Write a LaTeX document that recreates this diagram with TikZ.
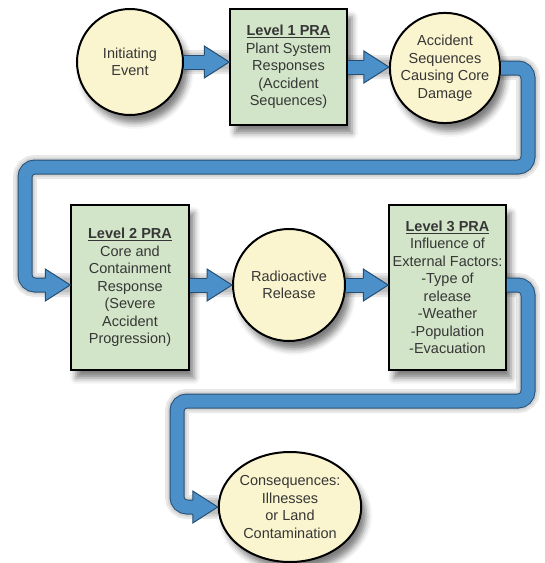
\documentclass[tikz,border=0pt]{standalone}
\usepackage{fontspec}
\setmainfont{Liberation Sans}
\usetikzlibrary{calc,shapes.geometric,shadows,shadows.blur,backgrounds}
\definecolor{eventfill}{HTML}{FAF5CE}
\definecolor{levelfill}{HTML}{D2E5C8}
\definecolor{pipeblue}{HTML}{4C90CA}
\definecolor{pipeedge}{HTML}{264E73}
\definecolor{textgray}{HTML}{363636}
\tikzset{
	softshadow/.style={blur shadow={shadow xshift=5pt, shadow yshift=-8pt, shadow blur radius=6pt, shadow opacity=50}},
	event/.style={circle, draw=black, line width=2pt, fill=eventfill, align=center, inner sep=0pt, text=textgray, softshadow},
	level/.style={rectangle, draw=black, line width=1.5pt, fill=levelfill, align=center, inner sep=0pt, text=textgray, softshadow},
	pipe/.style={draw=pipeedge, double=pipeblue, double distance=13pt, line width=1pt, rounded corners=10pt},
	pipehead/.style={fill=pipeblue, draw=pipeedge, line width=1pt, line join=miter},
	pipeshadow/.style={draw=black, opacity=0.09, rounded corners=10pt}
}
\begin{document}
\begin{tikzpicture}[x=1pt, y=-1pt, font=\fontsize{14.5}{17.5}\selectfont]
	\useasboundingbox (0,0) rectangle (545,563);
	% Define the boxes and circles
	\node[event, minimum size=106pt] (initiating) at (130,62) {Initiating\\Event};
	\node[level, minimum width=117pt, minimum height=116pt] (level1) at (288.5,67) {\underline{\textbf{Level 1 PRA}}\\Plant System\\Responses\\(Accident\\Sequences)};
	\node[event, minimum size=108pt] (sequences) at (445,68) {Accident\\Sequences\\Causing Core\\Damage};
	\node[level, minimum width=118pt, minimum height=165pt] (level2) at (130,287.5) {\underline{\textbf{Level 2 PRA}}\\Core and\\Containment\\Response\\(Severe\\Accident\\Progression)};
	\node[event, minimum size=112pt] (release) at (289,285) {Radioactive\\Release};
	\node[level, minimum width=117pt, minimum height=165pt] (level3) at (447.5,287.5) {\underline{\textbf{Level 3 PRA}}\\Influence of\\External Factors:\\-Type of\\release\\-Weather\\-Population\\-Evacuation};
	\node[event, ellipse, minimum width=126pt, minimum height=110pt] (consequences) at (290,507) {Consequences:\\Illnesses\\or Land\\Contamination};
	% Define the arrow tips and bends
	\coordinate (tip1) at (initiating.east -| level1.west);
	\coordinate (tip2) at (level1.east -| sequences.west);
	\coordinate (tip3) at (level2.west |- release.west);
	\coordinate (tip4) at (release.west);
	\coordinate (tip5) at (release.east -| level3.west);
	\coordinate (tip6) at (consequences.west);
	\coordinate (bendA) at (528,167);
	\coordinate (bendB) at (25,167);
	\coordinate (bendC) at (528,401);
	\coordinate (bendD) at (177,401);
	% Shadows of the pipes
	\begin{scope}[on background layer, transform canvas={xshift=4pt, yshift=-6pt}]
		\foreach \w in {24,19,14}
			\draw[pipeshadow, line width=\w pt] (initiating.east) -- (tip1) (level1.east) -- (tip2) (sequences.east) -| (bendA) -- (bendB) |- (tip3) (level2.east |- tip4) -- (tip4) (release.east) -- (tip5) (level3.east |- tip5) -| (bendC) -- (bendD) |- (tip6);
	\end{scope}
	% Draw the pipes
	\draw[pipe] (initiating.east) -- ($(tip1)+(-23,0)$);
	\draw[pipe] (level1.east) -- ($(tip2)+(-23,0)$);
	\draw[pipe] (sequences.east) -| (bendA) -- (bendB) |- ($(tip3)+(-23,0)$);
	\draw[pipe] (level2.east |- tip4) -- ($(tip4)+(-23,0)$);
	\draw[pipe] (release.east) -- ($(tip5)+(-23,0)$);
	\draw[pipe] (level3.east |- tip5) -| (bendC) -- (bendD) |- ($(tip6)+(-23,0)$);
	% Add arrow heads
	\foreach \t in {tip1,tip2,tip3,tip4,tip5,tip6}
		\filldraw[pipehead] ($(\t)+(-25,-7)$) -- ($(\t)+(-25,-16)$) -- (\t) -- ($(\t)+(-25,16)$) -- ($(\t)+(-25,7)$);
\end{tikzpicture}
\end{document}
